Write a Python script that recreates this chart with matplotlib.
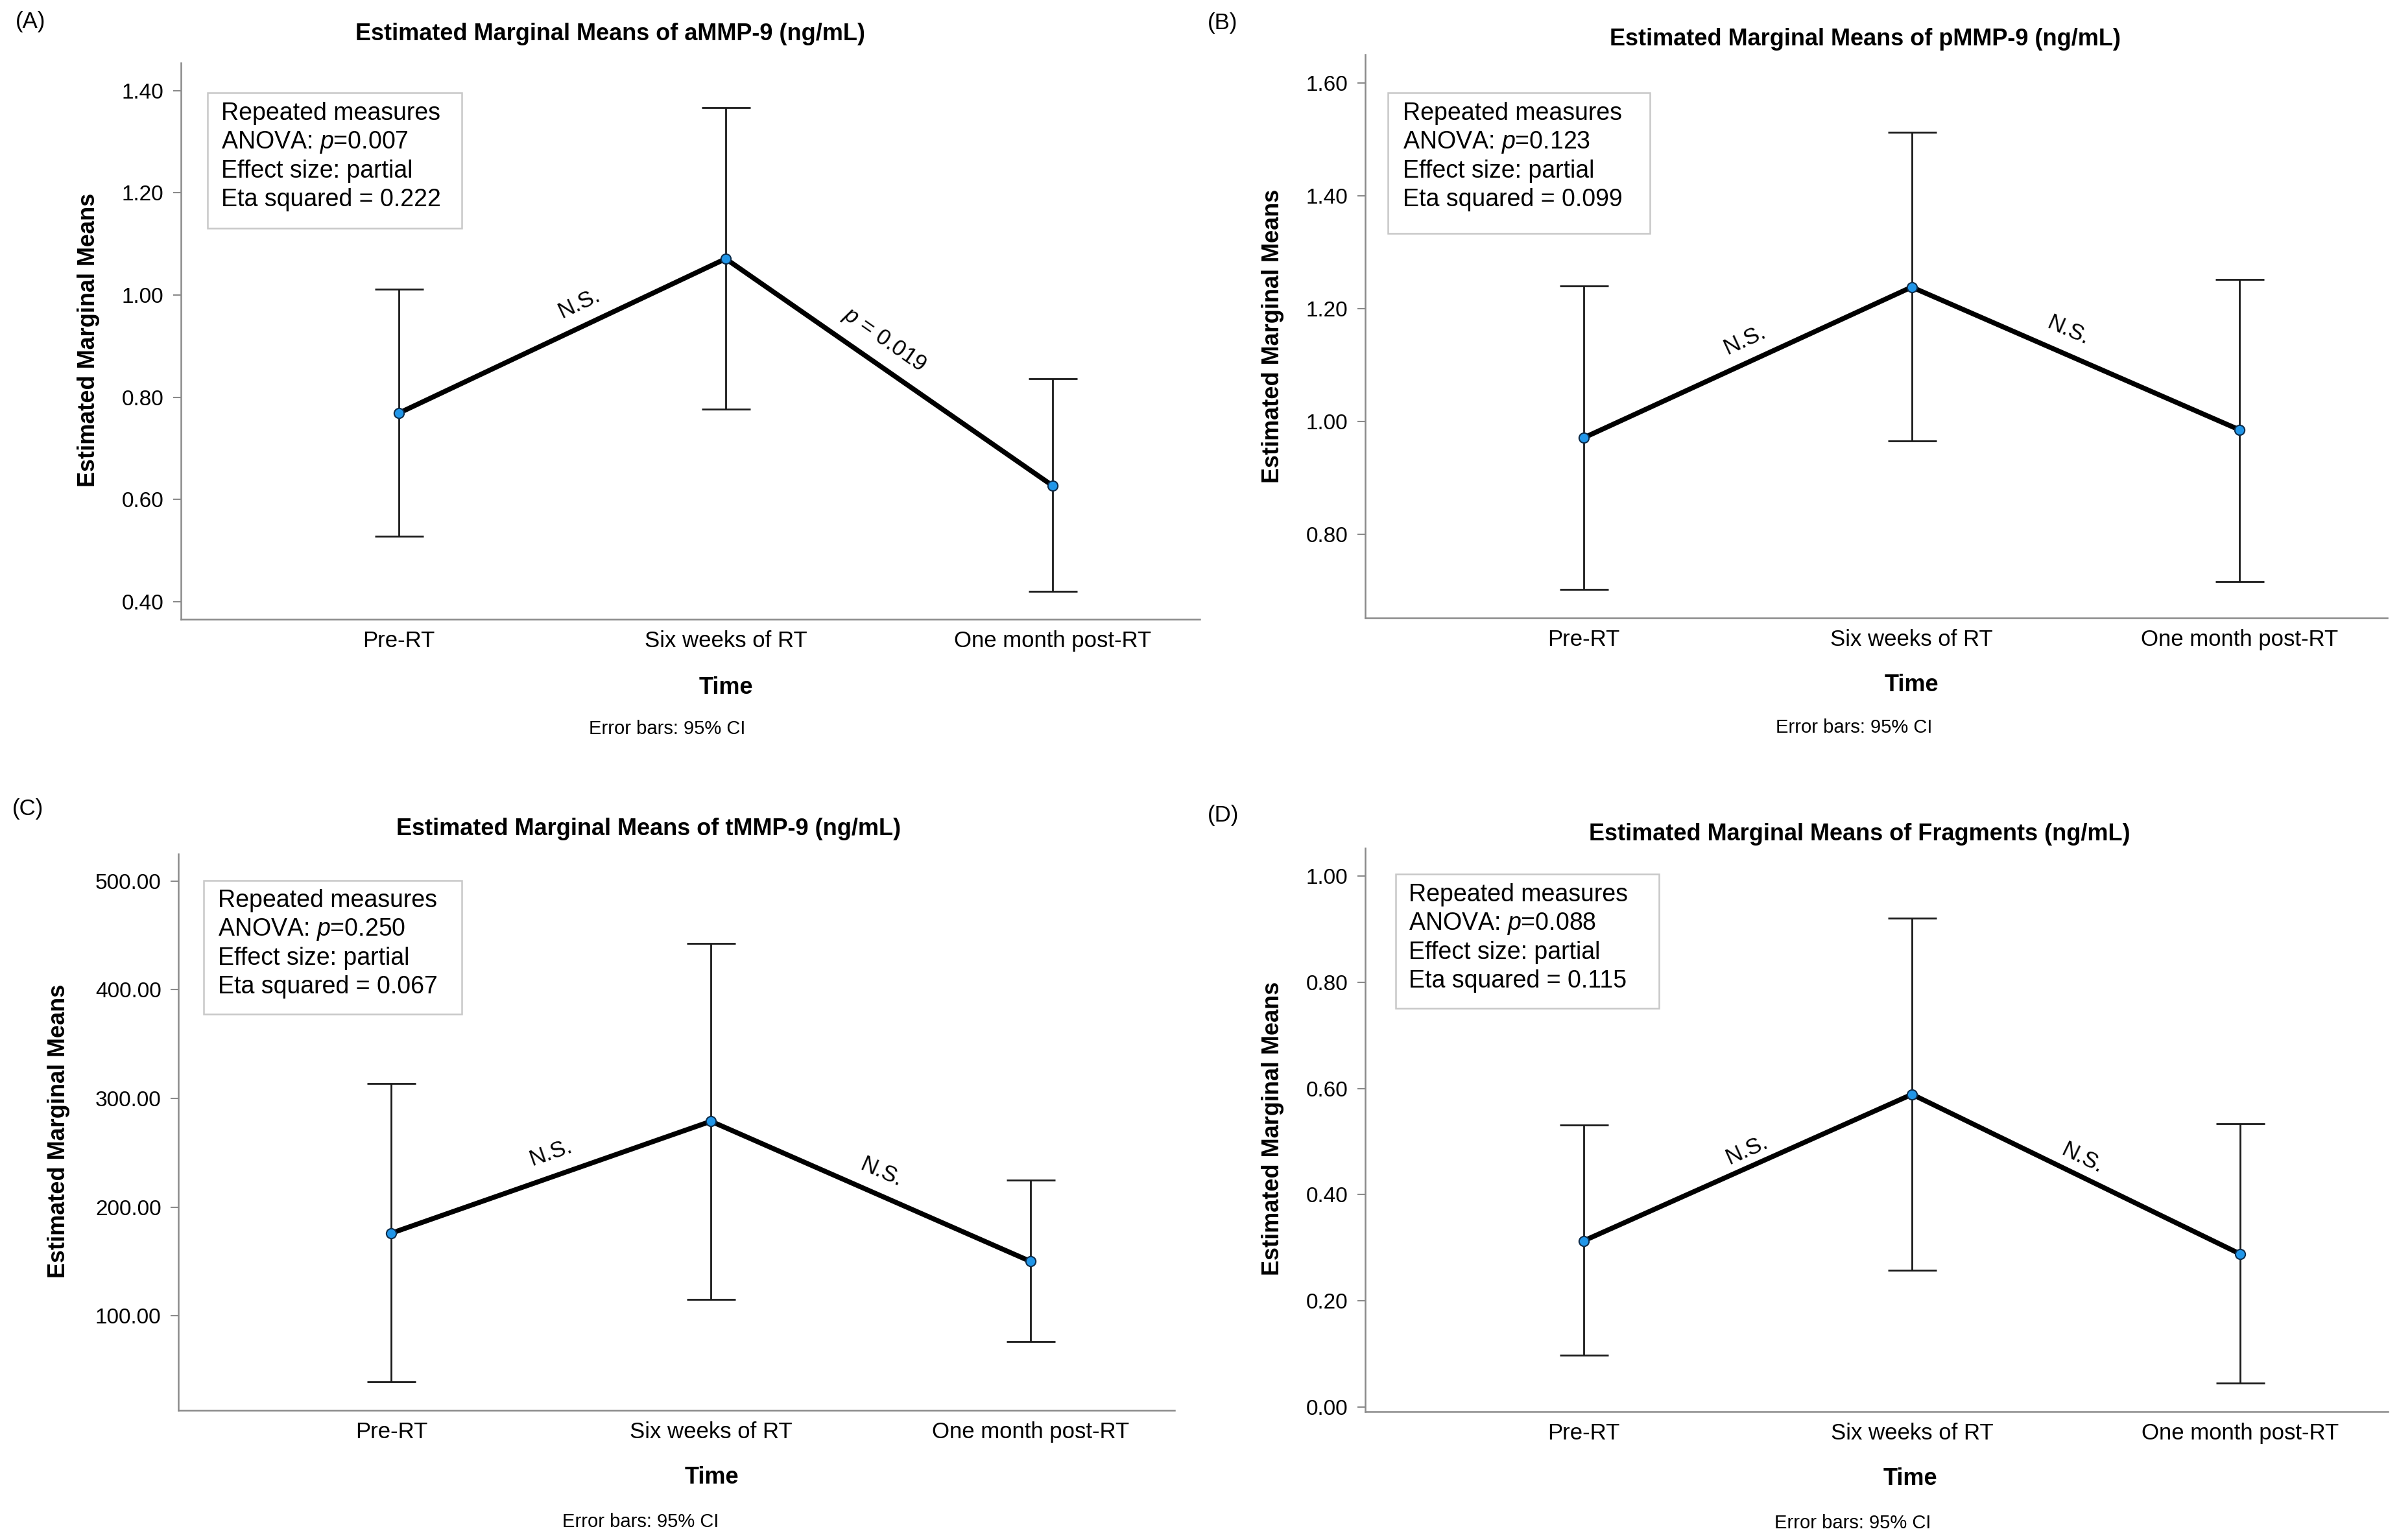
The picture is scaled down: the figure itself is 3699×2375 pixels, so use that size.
import math
import matplotlib
matplotlib.use("Agg")
import matplotlib.pyplot as plt
from matplotlib import font_manager
from matplotlib.patches import Rectangle

# ---------------- data ----------------
time_labels = ["Pre-RT", "Six weeks of RT", "One month post-RT"]

titles = [
    "Estimated Marginal Means of aMMP-9 (ng/mL)",
    "Estimated Marginal Means of pMMP-9 (ng/mL)",
    "Estimated Marginal Means of tMMP-9 (ng/mL)",
    "Estimated Marginal Means of Fragments (ng/mL)",
]
panel_tags = ["(A)", "(B)", "(C)", "(D)"]

ammp_mean = [0.769, 1.071, 0.627]
ammp_low = [0.528, 0.777, 0.420]
ammp_high = [1.011, 1.366, 0.836]

pmmp_mean = [0.971, 1.238, 0.985]
pmmp_low = [0.702, 0.965, 0.716]
pmmp_high = [1.240, 1.512, 1.252]

tmmp_mean = [176.0, 279.0, 150.0]
tmmp_low = [39.0, 115.0, 76.4]
tmmp_high = [313.8, 442.5, 224.6]

frag_mean = [0.313, 0.589, 0.288]
frag_low = [0.097, 0.257, 0.045]
frag_high = [0.531, 0.921, 0.534]

anova_p = ["0.007", "0.123", "0.250", "0.088"]
eta_sq = ["0.222", "0.099", "0.067", "0.115"]

seg_labels = [["N.S.", "$p$ = 0.019"], ["N.S.", "N.S."], ["N.S.", "N.S."], ["N.S.", "N.S."]]

yticks_list = [
    [0.40, 0.60, 0.80, 1.00, 1.20, 1.40],
    [0.80, 1.00, 1.20, 1.40, 1.60],
    [100.0, 200.0, 300.0, 400.0, 500.0],
    [0.00, 0.20, 0.40, 0.60, 0.80, 1.00],
]
ylims = [(0.366, 1.454), (0.652, 1.650), (13.0, 525.0), (-0.009, 1.053)]

means = [ammp_mean, pmmp_mean, tmmp_mean, frag_mean]
lows = [ammp_low, pmmp_low, tmmp_low, frag_low]
highs = [ammp_high, pmmp_high, tmmp_high, frag_high]

# label anchor positions (data coords) for the segment annotations
seg_pos = [
    [(0.552, 0.983), (1.484, 0.912)],
    [(0.490, 1.144), (1.477, 1.1615)],
    [(0.498, 250.0), (1.532, 231.8)],
    [(0.495, 0.484), (1.518, 0.468)],
]

# ---------------- style ----------------
W, H = 3699, 2375
DPI = 100
names = {f.name for f in font_manager.fontManager.ttflist}
base_font = "Liberation Sans" if "Liberation Sans" in names else "DejaVu Sans"
title_font = "Liberation Sans Narrow" if "Liberation Sans Narrow" in names else base_font

plt.rcParams["font.family"] = [base_font, "DejaVu Sans"]
plt.rcParams["mathtext.fontset"] = "custom"
plt.rcParams["mathtext.rm"] = base_font
plt.rcParams["mathtext.it"] = base_font + ":italic"

fig = plt.figure(figsize=(W / DPI, H / DPI), dpi=DPI)
fig.patch.set_facecolor("white")


def fx(px):
    return px / W


def fy(py):
    return 1 - py / H


# axes boxes in pixel coords: left, top, right, bottom
axes_px = [(279, 97, 1850, 955), (2105, 84, 3681, 953), (275, 1317, 1811, 2175), (2105, 1308, 3682, 2177)]
box_px = [(320, 143, 712, 352), (2140, 143, 2544, 360), (314, 1358, 712, 1564), (2152, 1348, 2558, 1555)]
text_x_px = [341, 2163, 336, 2172]
text_y0_px = [175, 175, 1389, 1380]
title_px = [(941, 52), (2876, 61), (1000, 1279), (2867, 1286)]
tag_px = [(24, 34), (1862, 36), (19, 1247), (1862, 1257)]
ylab_px = [(136, 524), (1962, 518), (91, 1744), (1962, 1740)]
time_px = [(1119, 1060), (2947, 1056), (1097, 2279), (2945, 2281)]
err_px = [(1029, 1124), (2859, 1122), (988, 2347), (2857, 2349)]

spine_col = "#8a8a8a"

for i in range(4):
    l, t, r, b = axes_px[i]
    ax = fig.add_axes([fx(l), fy(b), (r - l) / W, (b - t) / H])
    x = list(range(len(time_labels)))
    m = means[i]
    yerr = [[m[k] - lows[i][k] for k in x], [highs[i][k] - m[k] for k in x]]
    ax.errorbar(x, m, yerr=yerr, fmt="none", ecolor="#1a1a1a", elinewidth=2.0,
                capsize=27, capthick=2.0, zorder=2)
    ax.plot(x, m, color="black", lw=5.5, zorder=3, solid_capstyle="round")
    ax.plot(x, m, ls="none", marker="o", ms=11, mfc="#2196e8", mec="#0d2c4a", mew=1.5, zorder=4)

    ax.set_xlim(-0.666, 2.45)
    ax.set_ylim(*ylims[i])
    ax.set_xticks(x)
    ax.set_xticklabels(time_labels, fontsize=25)
    ax.set_yticks(yticks_list[i])
    ax.set_yticklabels(["%.2f" % v for v in yticks_list[i]], fontsize=24)
    ax.tick_params(axis="x", length=0, pad=12)
    ax.tick_params(axis="y", length=9, width=1.5, color=spine_col, pad=10, direction="out")
    for s in ["top", "right"]:
        ax.spines[s].set_visible(False)
    for s in ["left", "bottom"]:
        ax.spines[s].set_color(spine_col)
        ax.spines[s].set_linewidth(1.8)
    ax.set_facecolor("white")

    # segment annotations rotated along the line
    for k in range(2):
        p0 = ax.transData.transform((x[k], m[k]))
        p1 = ax.transData.transform((x[k + 1], m[k + 1]))
        ang = math.degrees(math.atan2(p1[1] - p0[1], p1[0] - p0[0]))
        tx, ty = seg_pos[i][k]
        ax.text(tx, ty, seg_labels[i][k], rotation=ang, rotation_mode="anchor",
                ha="center", va="center", fontsize=25, zorder=5)

    # stats box
    bl, bt, br, bb = box_px[i]
    fig.patches.append(Rectangle((fx(bl), fy(bb)), (br - bl) / W, (bb - bt) / H,
                                 transform=fig.transFigure, facecolor="white",
                                 edgecolor="#c8c8c8", lw=1.8, zorder=6))
    lines = ["Repeated measures", "ANOVA: $p$=" + anova_p[i], "Effect size: partial",
             "Eta squared = " + eta_sq[i]]
    for j, s in enumerate(lines):
        fig.text(fx(text_x_px[i]), fy(text_y0_px[i] + j * 44.4), s, fontsize=27,
                 ha="left", va="center", zorder=7)

    fig.text(fx(title_px[i][0]), fy(title_px[i][1]), titles[i], fontsize=26,
             fontweight="bold", family=[title_font, "DejaVu Sans"], ha="center", va="center")
    fig.text(fx(tag_px[i][0]), fy(tag_px[i][1]), panel_tags[i], fontsize=25,
             ha="left", va="center")
    fig.text(fx(ylab_px[i][0]), fy(ylab_px[i][1]), "Estimated Marginal Means", fontsize=26,
             fontweight="bold", rotation=90, ha="center", va="center")
    fig.text(fx(time_px[i][0]), fy(time_px[i][1]), "Time", fontsize=26,
             fontweight="bold", ha="center", va="center")
    fig.text(fx(err_px[i][0]), fy(err_px[i][1]), "Error bars: 95% CI", fontsize=21,
             ha="center", va="center")

fig.savefig("out.png", dpi=DPI, facecolor="white")
